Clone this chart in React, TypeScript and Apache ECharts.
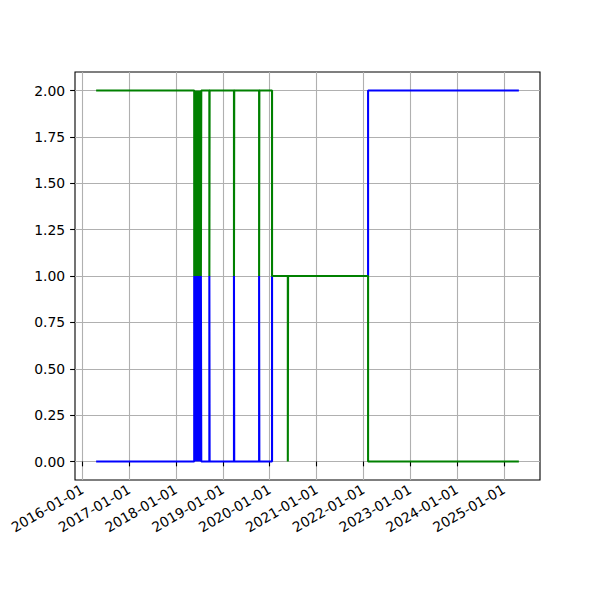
import React, { useEffect, useRef } from 'react';
import * as echarts from 'echarts';

// Observation dates (value holds until next date: steps-post)
const DATES = [
  '2016-04-18',
  '2018-05-23', '2018-05-26', '2018-05-29', '2018-06-01', '2018-06-04', '2018-06-07',
  '2018-06-10', '2018-06-13', '2018-06-17', '2018-06-20', '2018-06-24', '2018-06-27',
  '2018-07-01', '2018-07-04', '2018-07-08', '2018-07-11', '2018-07-14', '2018-07-17',
  '2018-09-18', '2018-09-20',
  '2019-03-29', '2019-03-31',
  '2019-10-11', '2019-10-13',
  '2020-01-20',
  '2020-05-22', '2020-05-24',
  '2022-02-07',
  '2025-04-28',
];

const BLUE = [
  0,
  1, 0, 1, 0, 1, 0,
  1, 0, 1, 0, 1, 0,
  1, 0, 1, 0, 1, 0,
  1, 0,
  1, 0,
  1, 0,
  1,
  1, 1,
  2,
  2,
];

const GREEN = [
  2,
  1, 2, 1, 2, 1, 2,
  1, 2, 1, 2, 1, 2,
  1, 2, 1, 2, 1, 2,
  1, 2,
  1, 2,
  1, 2,
  1,
  0, 1,
  0,
  0,
];

const X_TICK_LABELS = [
  '2016-01-01', '2017-01-01', '2018-01-01', '2019-01-01', '2020-01-01',
  '2021-01-01', '2022-01-01', '2023-01-01', '2024-01-01', '2025-01-01',
];

const Y_MIN = 0;
const Y_MAX = 2;
const Y_STEP = 0.25;

const ts = (s: string) => {
  const [y, m, d] = s.split('-').map(Number);
  return Date.UTC(y, m - 1, d);
};
const pad = (n: number) => String(n).padStart(2, '0');
const fmt = (v: number) => {
  const d = new Date(v);
  return `${d.getUTCFullYear()}-${pad(d.getUTCMonth() + 1)}-${pad(d.getUTCDate())}`;
};

export default function App() {
  const ref = useRef<HTMLDivElement>(null);
  useEffect(() => {
    const chart = echarts.init(ref.current!, null, { renderer: 'svg' });
    const xs = DATES.map(ts);
    const span = xs[xs.length - 1] - xs[0];
    const xMin = xs[0] - 0.05 * span;
    const xMax = xs[xs.length - 1] + 0.05 * span;
    const yPad = 0.05 * (Y_MAX - Y_MIN);
    const tickVals = X_TICK_LABELS.map(ts);
    const font = 'DejaVu Sans';
    const fs = 13.9;
    chart.setOption({
      animation: false,
      backgroundColor: '#ffffff',
      grid: [
        {
          left: 75, right: 60, top: 72, bottom: 120,
          show: true, borderColor: '#000000', borderWidth: 1.1, backgroundColor: 'transparent',
        },
        { left: 75, right: 60, top: 90.5, bottom: 138.5 },
      ],
      xAxis: [
        {
          type: 'value', gridIndex: 0, min: xMin, max: xMax, scale: true,
          axisLine: { show: false },
          axisTick: { show: true, customValues: tickVals, length: 4.9, lineStyle: { color: '#000', width: 1.1 } },
          axisLabel: {
            customValues: tickVals,
            formatter: (v: number) => fmt(v),
            rotate: 30, margin: 8, fontFamily: font, fontSize: fs, color: '#000',
          },
          splitLine: { show: true, lineStyle: { color: '#b0b0b0', width: 1.1 } },
        },
        { type: 'value', gridIndex: 1, min: xMin, max: xMax, scale: true, show: false },
      ],
      yAxis: [
        {
          type: 'value', gridIndex: 0, min: Y_MIN - yPad, max: Y_MAX + yPad,
          axisLine: { show: false }, axisTick: { show: false }, axisLabel: { show: false },
          splitLine: { show: false },
        },
        {
          type: 'value', gridIndex: 1, min: Y_MIN, max: Y_MAX, interval: Y_STEP,
          axisLine: { show: false },
          axisTick: { show: true, length: 4.9, lineStyle: { color: '#000', width: 1.1 } },
          axisLabel: {
            formatter: (v: number) => v.toFixed(2),
            margin: 9.8, fontFamily: font, fontSize: fs, color: '#000',
          },
          splitLine: { show: true, lineStyle: { color: '#b0b0b0', width: 1.1 } },
        },
      ],
      series: [
        {
          type: 'line', xAxisIndex: 1, yAxisIndex: 1, step: 'end',
          data: xs.map((x, i) => [x, BLUE[i]]),
          symbol: 'none', showSymbol: false, clip: false, z: 3,
          lineStyle: { color: '#0000ff', width: 2.08 }, itemStyle: { color: '#0000ff' },
        },
        {
          type: 'line', xAxisIndex: 1, yAxisIndex: 1, step: 'end',
          data: xs.map((x, i) => [x, GREEN[i]]),
          symbol: 'none', showSymbol: false, clip: false, z: 4,
          lineStyle: { color: '#008000', width: 2.08 }, itemStyle: { color: '#008000' },
        },
      ],
    });
    return () => chart.dispose();
  }, []);
  return (
    <div
      ref={ref}
      style={{ position: 'fixed', left: 0, top: 0, width: 600, height: 600, background: '#fff' }}
    />
  );
}
